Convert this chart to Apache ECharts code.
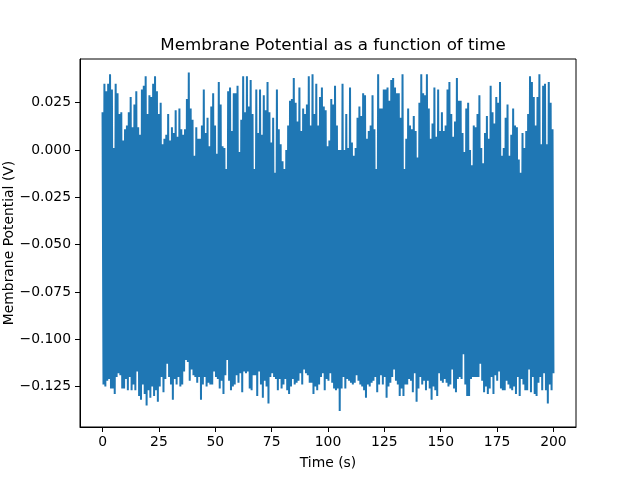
<!DOCTYPE html>
<html>
<head>
<meta charset="utf-8">
<script src="https://cdn.jsdelivr.net/npm/echarts@6/dist/echarts.min.js"></script>
<style>
  html, body { margin: 0; padding: 0; background: #fff; }
  #chart { width: 640px; height: 480px; }
</style>
</head>
<body>
<div id="chart"></div>
<script>
// spike tops (V), read left to right off the picture, ~one every 2 px
const peaks = [
  0.020, 0.035, 0.031, 0.035, 0.040, 0.032, 0.001, 0.035, 0.030, 0.019,
  0.020, 0.005, 0.011, 0.013, 0.020, 0.028, 0.012, 0.024, 0.031, 0.012,
  0.008, 0.032, 0.034, 0.039, 0.019, 0.029, 0.028, 0.035, 0.039, 0.031,
  0.019, 0.025, 0.003, 0.006, 0.008, 0.019, 0.005, 0.012, 0.009, 0.021,
  0.007, 0.022, 0.011, 0.008, 0.011, 0.027, 0.041, 0.022, 0.016, -0.003,
  0.012, 0.006, 0.006, 0.013, 0.032, 0.009, 0.017,
  0.002, 0.023, 0.030, 0.013, -0.002, 0.036, 0.024, 0.002, 0.001, -0.010,
  0.031, 0.033, 0.010, 0.030, 0.030, 0.034, -0.001, 0.016, 0.039, 0.020,
  0.039, 0.023, 0.037, 0.019, -0.010, 0.032, 0.009, 0.032, 0.008, 0.029,
  0.021, 0.036, 0.020, 0.004, 0.017, -0.012, 0.032, 0.011, 0.003, -0.006,
  -0.010, 0.000, 0.013, 0.026, 0.027, 0.038, 0.025, 0.015, 0.033, 0.010,
  0.022, 0.019, 0.024, 0.039, 0.013, 0.040, 0.019, 0.035, 0.013, 0.028,
  0.033, 0.023, 0.021,
  0.002, 0.005, 0.027, 0.024, 0.034, 0.013, 0.000, 0.000, 0.035, 0.000,
  0.019, 0.001, 0.033, 0.004, -0.003, 0.001, 0.017, 0.023, 0.018, 0.030,
  0.029, 0.006, 0.010, 0.013, 0.029, 0.011, -0.010, 0.040, 0.022, 0.022,
  0.032, 0.032, 0.033, 0.026, 0.037, 0.038, 0.033, 0.030, 0.030, 0.017,
  0.040, -0.010, 0.006, 0.022, 0.013, 0.011, 0.018, 0.010, -0.004, 0.025,
  0.040, 0.030, 0.029, 0.040, 0.022, 0.006, 0.014, 0.033, 0.007, 0.032,
  0.010, 0.020, 0.010,
  0.013, 0.032, 0.036, 0.019, 0.007, 0.015, 0.038, 0.026, 0.026, 0.009,
  -0.001, 0.022, 0.025, 0.000, -0.008, 0.013, 0.012, 0.019, 0.029, 0.001,
  -0.007, 0.009, 0.018, 0.006, 0.034, 0.020, 0.014, 0.028, 0.025, 0.036,
  -0.003, 0.001, 0.017, 0.024, -0.003, 0.008, 0.022, 0.013, 0.012, -0.005,
  -0.012, 0.009, 0.001, 0.010, 0.019, 0.039, 0.036, 0.028, 0.013, 0.028,
  0.040, 0.003, 0.034, 0.035, 0.003, 0.036, 0.025, 0.011
];

// reset troughs (V) between the spikes, same order
const troughs = [
  -0.124, -0.125, -0.122, -0.121, -0.126, -0.126, -0.129, -0.120, -0.118, -0.119,
  -0.126, -0.126, -0.121, -0.127, -0.120, -0.127, -0.124, -0.127, -0.117, -0.130,
  -0.132, -0.124, -0.129, -0.135, -0.127, -0.131, -0.125, -0.130, -0.127, -0.133,
  -0.125, -0.120, -0.128, -0.121, -0.113, -0.120, -0.124, -0.132, -0.121, -0.124,
  -0.120, -0.125, -0.124, -0.117, -0.111, -0.112, -0.122, -0.116, -0.119, -0.120,
  -0.123, -0.120, -0.132, -0.124, -0.120, -0.125, -0.123,
  -0.124, -0.124, -0.117, -0.120, -0.121, -0.126, -0.122, -0.129, -0.119, -0.111, -0.122,
  -0.127, -0.125, -0.124, -0.119, -0.123, -0.118, -0.128, -0.117, -0.118, -0.117, -0.126,
  -0.127, -0.119, -0.119, -0.130, -0.117, -0.124, -0.131, -0.122, -0.125, -0.134, -0.120,
  -0.118, -0.120, -0.121, -0.127, -0.121, -0.126, -0.124, -0.121, -0.127, -0.129, -0.125,
  -0.121, -0.124, -0.123, -0.122, -0.118, -0.124, -0.116, -0.118, -0.119, -0.123, -0.123,
  -0.129, -0.125, -0.127, -0.124, -0.120, -0.118, -0.127, -0.121,
  -0.122, -0.118, -0.123, -0.126, -0.127, -0.126, -0.138, -0.126, -0.120, -0.126, -0.121,
  -0.122, -0.123, -0.124, -0.123, -0.119, -0.122, -0.124, -0.125, -0.127, -0.131, -0.124,
  -0.125, -0.123, -0.122, -0.120, -0.128, -0.124, -0.119, -0.124, -0.120, -0.131, -0.125,
  -0.123, -0.120, -0.116, -0.122, -0.124, -0.130, -0.126, -0.130, -0.124, -0.124, -0.121,
  -0.122, -0.128, -0.118, -0.133, -0.126, -0.120, -0.124, -0.122, -0.127, -0.122, -0.126,
  -0.132, -0.125, -0.127, -0.130, -0.118, -0.122, -0.123, -0.121,
  -0.123, -0.125, -0.124, -0.116, -0.126, -0.128, -0.121, -0.120, -0.121, -0.108, -0.124,
  -0.130, -0.130, -0.121, -0.120, -0.120, -0.120, -0.120, -0.113, -0.122, -0.128, -0.125,
  -0.129, -0.126, -0.120, -0.129, -0.119, -0.122, -0.117, -0.126, -0.127, -0.127, -0.122,
  -0.124, -0.126, -0.127, -0.125, -0.129, -0.120, -0.130, -0.121, -0.124, -0.127,
  -0.127, -0.116, -0.128, -0.120, -0.129, -0.130, -0.123, -0.120, -0.127, -0.118,
  -0.127, -0.134, -0.124, -0.127, -0.118
];

const tStart = 0;
const tEnd = 200;
const xTicks = [0, 25, 50, 75, 100, 125, 150, 175, 200];
const yTicks = [-0.125, -0.1, -0.075, -0.05, -0.025, 0, 0.025];

// spike then reset, evenly spaced over the run
const n = Math.min(peaks.length, troughs.length);
const dt = (tEnd - tStart) / (n - 0.5);
const points = [];
for (let i = 0; i < n; i++) {
  points.push([tStart + i * dt, peaks[i]]);
  points.push([tStart + (i + 0.5) * dt, troughs[i]]);
}

const font = 'DejaVu Sans';
const chart = echarts.init(document.getElementById('chart'));

chart.setOption({
  animation: false,
  backgroundColor: '#fff',
  title: {
    text: 'Membrane Potential as a function of time',
    left: 328,
    top: 32,
    textAlign: 'center',
    textStyle: { fontFamily: font, fontSize: 16.7, fontWeight: 'normal', color: '#000' }
  },
  grid: {
    left: 80, right: 64, top: 59, bottom: 53,
    containLabel: false,
    outerBoundsMode: 'none',
    show: true, borderColor: '#000', borderWidth: 1, backgroundColor: 'transparent'
  },
  xAxis: {
    type: 'value',
    min: -10,
    max: 210,
    name: 'Time (s)',
    nameLocation: 'middle',
    nameGap: 29,
    nameMoveOverlap: false,
    nameTextStyle: { fontFamily: font, fontSize: 13.9, color: '#000' },
    axisLine: { onZero: false, lineStyle: { color: '#000', width: 1 } },
    axisTick: { show: true, length: 5, customValues: xTicks, lineStyle: { color: '#000' } },
    axisLabel: {
      customValues: xTicks, margin: 8,
      fontFamily: font, fontSize: 13.9, color: '#000'
    },
    splitLine: { show: false }
  },
  yAxis: {
    type: 'value',
    min: -0.1464,
    max: 0.0481,
    name: 'Membrane Potential (V)',
    nameLocation: 'middle',
    nameGap: 64,
    nameMoveOverlap: false,
    nameTextStyle: { fontFamily: font, fontSize: 13.9, color: '#000' },
    axisLine: { onZero: false, lineStyle: { color: '#000', width: 1 } },
    axisTick: { show: true, length: 5, customValues: yTicks, lineStyle: { color: '#000' } },
    axisLabel: {
      customValues: yTicks, margin: 9,
      fontFamily: font, fontSize: 13.9, color: '#000',
      formatter: v => v.toFixed(3).replace('-', '\u2212')
    },
    splitLine: { show: false }
  },
  series: [{
    type: 'line',
    data: points,
    showSymbol: false,
    lineStyle: { color: '#1f77b4', width: 2 },
    clip: true
  }]
});
</script>
</body>
</html>
